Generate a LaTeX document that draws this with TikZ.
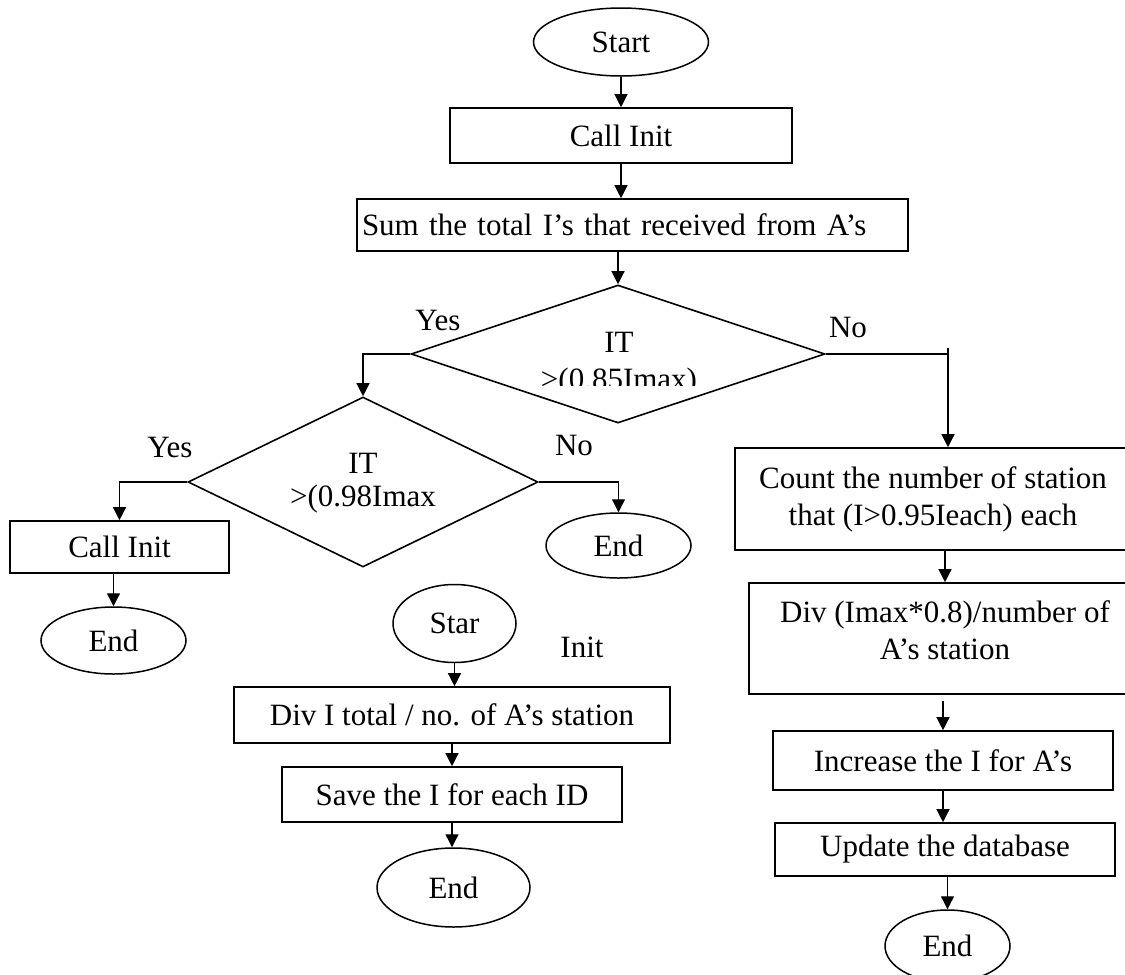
\documentclass[tikz,border=0pt]{standalone}
\usepackage{fontspec}
\setmainfont{Liberation Serif}
\usetikzlibrary{shapes,arrows.meta,calc}

\tikzset{
  term/.style={draw,ellipse,line width=1.5pt,inner sep=0pt},
  proc/.style={draw,rectangle,line width=1.6pt,inner sep=0pt,align=center},
  decision/.style={draw,diamond,line width=1.6pt,inner sep=0pt},
  flow/.style={line width=1.3pt,-{Triangle[length=13pt,width=13pt]}},
  link/.style={line width=1.3pt},
}

\begin{document}
\begin{tikzpicture}[x=1pt,y=-1pt,font=\fontsize{31}{37}\selectfont]
\useasboundingbox (0,0) rectangle (1125,975);

% main flow
\node[term,minimum width=175pt,minimum height=68pt] (start) at (621,42) {Start};
\node[proc,minimum width=342pt,minimum height=55pt] (init1) at (621,135.5) {Call Init};
\node[proc,minimum width=551pt,minimum height=52pt,text width=541pt,align=left] (sum) at (632.5,225) {Sum the total I’s that received from A’s};

% first test
\node[decision,minimum width=414pt,minimum height=138pt] (dec1) at (618,354) {};
\node[anchor=base] (q1a) at (619,352) {IT};
\begin{scope}
  \clip (500,330) rectangle (740,385);
  \node[anchor=base] (q1b) at (619,389) {>(0.85Imax)};
\end{scope}
\node (yes1) at (438,320) {Yes};
\node (no1) at (848,327) {No};

% second test
\node[decision,minimum width=350pt,minimum height=170pt] (dec2) at (363,482) {};
\node[anchor=base] (q2a) at (363,473) {IT};
\node[anchor=base] (q2b) at (363,506) {>(0.98Imax};
\node (yes2) at (170,447) {Yes};
\node (no2) at (574,445) {No};

\node[proc,minimum width=219pt,minimum height=52pt] (init2) at (119.5,547) {Call Init};
\node[term,minimum width=145pt,minimum height=67pt] (end1) at (113.5,640.5) {End};
\node[term,minimum width=145pt,minimum height=65pt] (end2) at (618.5,545.5) {End};

% Init routine
\node[term,minimum width=123pt,minimum height=78pt] (star) at (454.5,623.5) {Star};
\node (initlbl) at (582,647) {Init};
\node[proc,minimum width=436pt,minimum height=56pt] (divt) at (452,715) {Div I total / no. of A’s station};
\node[proc,minimum width=340pt,minimum height=55pt] (save) at (452,794.5) {Save the I for each ID};
\node[term,minimum width=153pt,minimum height=79pt] (end3) at (453.5,887.5) {End};

% No branch
\node[proc,minimum width=396pt,minimum height=102pt] (count) at (933,499) {Count the number of station\\that (I>0.95Ieach) each};
\node[proc,minimum width=392pt,minimum height=111pt] (divm) at (945,638.5) {Div (Imax*0.8)/number of\\A’s station\\[-21pt]};
\node[proc,minimum width=340pt,minimum height=59pt] (incr) at (943,760.5) {Increase the I for A’s};
\node[proc,minimum width=340pt,minimum height=53pt] (upd) at (945,849.5) {Update the database};
\node[term,minimum width=125pt,minimum height=72pt] (end4) at (947.5,946) {End};

% connectors
\draw[flow] (start) -- (init1);
\draw[flow] (init1.south) -- (init1.south |- sum.north);
\draw[flow] (dec1.north |- sum.south) -- (dec1.north);
\draw[flow] (dec1.west) -| (dec2.north);
\draw[link] (dec1.east) -- ([xshift=15pt]count.north |- dec1.east);
\draw[flow] ([xshift=15pt,yshift=6pt]count.north |- dec1.east) -- ([xshift=15pt]count.north);
\draw[flow] (dec2.west) -| (init2.north);
\draw[flow] (dec2.east) -| (end2.north);
\draw[flow] (end1.north |- init2.south) -- (end1.north);
\draw[flow] (star.south) -- (star.south |- divt.north);
\draw[flow] (divt) -- (save);
\draw[flow] (save.south) -- (save.south |- end3.north);
\draw[flow] (divm.north |- count.south) -- (divm.north);
\draw[flow] ([yshift=-6pt]divm.south -| incr.north) -- (incr.north);
\draw[flow] (incr.south) -- (incr.south |- upd.north);
\draw[flow] (end4.north |- upd.south) -- (end4.north);
\end{tikzpicture}
\end{document}
